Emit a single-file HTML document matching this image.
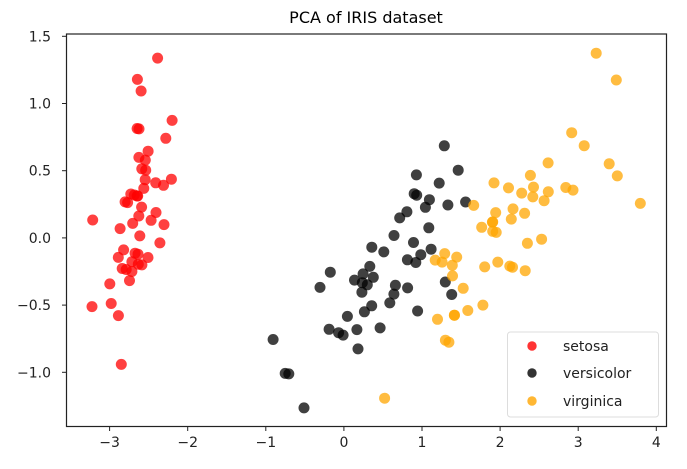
<!DOCTYPE html>
<html><head><meta charset="utf-8"><style>
html,body{margin:0;padding:0;background:#fff;}
svg{display:block;font-family:"DejaVu Sans","Liberation Sans",sans-serif;}
</style></head><body>
<svg id="s" width="687" height="469" viewBox="0 0 687 469" xmlns="http://www.w3.org/2000/svg">
<rect width="687" height="469" fill="#fff"/>
<text x="366" y="23" font-size="16" text-anchor="middle" fill="#000">PCA of IRIS dataset</text>
<g id="pts"></g>
<rect x="66.5" y="34" width="600" height="392.5" fill="none" stroke="#222" stroke-width="1.2"/>
<g id="ticks" font-size="14" fill="#222"></g>
<rect x="507.5" y="332" width="151" height="85" rx="3" fill="#fff" fill-opacity="0.8" stroke="#ddd"/>
<circle cx="532" cy="346" r="4.7" fill="red" fill-opacity="0.8"/>
<text x="563" y="351" font-size="14" fill="#222">setosa</text>
<circle cx="532" cy="373" r="4.7" fill="black" fill-opacity="0.8"/>
<text x="563" y="378" font-size="14" fill="#222">versicolor</text>
<circle cx="532" cy="401" r="4.7" fill="orange" fill-opacity="0.8"/>
<text x="563" y="406" font-size="14" fill="#222">virginica</text>
</svg>
<script>
var X=function(v){return 343.9+v*78.1},Y=function(v){return 237.9-v*134.4};
var se=[-2.684,0.319,-2.714,-0.177,-2.889,-0.145,-2.745,-0.318,-2.729,0.327,-2.281,0.741,-2.821,-0.089,-2.626,0.163,-2.887,-0.578,-2.674,-0.114,-2.507,0.645,-2.613,0.015,-2.787,-0.235,-3.225,-0.511,-2.644,1.179,-2.386,1.338,-2.623,0.811,-2.648,0.312,-2.200,0.874,-2.588,0.514,-2.310,0.391,-2.544,0.433,-3.216,0.133,-2.303,0.099,-2.356,-0.037,-2.508,-0.146,-2.469,0.131,-2.562,0.368,-2.640,0.312,-2.633,-0.196,-2.587,-0.201,-2.410,0.410,-2.648,0.814,-2.597,1.093,-2.637,-0.121,-2.866,0.069,-2.625,0.599,-2.801,0.268,-2.980,-0.488,-2.590,0.229,-2.770,0.263,-2.850,-0.941,-2.998,-0.342,-2.406,0.189,-2.209,0.437,-2.715,-0.250,-2.538,0.504,-2.839,-0.228,-2.543,0.579,-2.704,0.108];
var ve=[1.285,0.685,0.932,0.318,1.464,0.504,0.181,-0.826,1.087,0.075,0.640,-0.418,1.095,0.284,-0.751,-1.008,1.043,0.228,-0.010,-0.723,-0.511,-1.265,0.511,-0.104,0.262,-0.550,0.984,-0.125,-0.174,-0.255,0.928,0.469,0.660,-0.353,0.236,-0.333,0.944,-0.544,0.045,-0.584,1.116,-0.084,0.357,-0.069,1.298,-0.328,0.921,-0.183,0.715,0.149,0.900,0.329,1.332,0.245,1.558,0.267,0.813,-0.163,-0.306,-0.368,-0.068,-0.705,-0.190,-0.680,0.136,-0.314,1.380,-0.421,0.588,-0.484,0.807,0.194,1.220,0.408,0.815,-0.372,0.246,-0.268,0.166,-0.682,0.464,-0.670,0.891,-0.034,0.231,-0.404,-0.705,-1.012,0.356,-0.505,0.332,-0.212,0.376,-0.293,0.642,0.018,-0.907,-0.756,0.299,-0.349];
var vi=[2.531,-0.010,1.415,-0.575,2.617,0.343,1.971,-0.180,2.350,-0.040,3.397,0.551,0.521,-1.193,2.933,0.356,2.321,-0.244,2.917,0.783,1.662,0.242,1.803,-0.216,2.165,0.216,1.345,-0.776,1.586,-0.540,1.905,0.119,1.950,0.041,3.488,1.175,3.795,0.257,1.300,-0.761,2.428,0.378,1.199,-0.606,3.500,0.461,1.388,-0.204,2.276,0.333,2.614,0.558,1.258,-0.180,1.291,-0.117,2.124,-0.210,2.388,0.465,2.841,0.375,3.231,1.374,2.159,-0.218,1.444,-0.143,1.780,-0.500,3.077,0.686,2.144,0.140,1.905,0.049,1.169,-0.165,2.108,0.372,2.314,0.183,1.922,0.409,1.415,-0.575,2.563,0.277,2.419,0.305,1.944,0.188,1.527,-0.375,1.764,0.079,1.901,0.117,1.390,-0.283];
var h='';
[[se,'red'],[ve,'black'],[vi,'orange']].forEach(function(p){var d=p[0];for(var i=0;i<d.length;i+=2)h+='<circle cx="'+X(d[i]).toFixed(1)+'" cy="'+Y(d[i+1]).toFixed(1)+'" r="5.5" fill="'+p[1]+'" fill-opacity="0.75"/>';});
document.getElementById('pts').innerHTML=h;
var t='';
for(var v=-3;v<=4;v++){var x=X(v).toFixed(1);t+='<line x1="'+x+'" y1="426.5" x2="'+x+'" y2="431" stroke="#222"/><text x="'+x+'" y="447" text-anchor="middle">'+(v<0?'\u2212'+(-v):v)+'</text>';}
[1.5,1.0,0.5,0.0,-0.5,-1.0].forEach(function(v){var y=Y(v).toFixed(1);t+='<line x1="62" y1="'+y+'" x2="66.5" y2="'+y+'" stroke="#222"/><text x="51" y="'+(+y+5)+'" text-anchor="end">'+(v<0?'\u2212'+(-v).toFixed(1):v.toFixed(1))+'</text>';});
document.getElementById('ticks').innerHTML=t;
</script>
</body></html>
